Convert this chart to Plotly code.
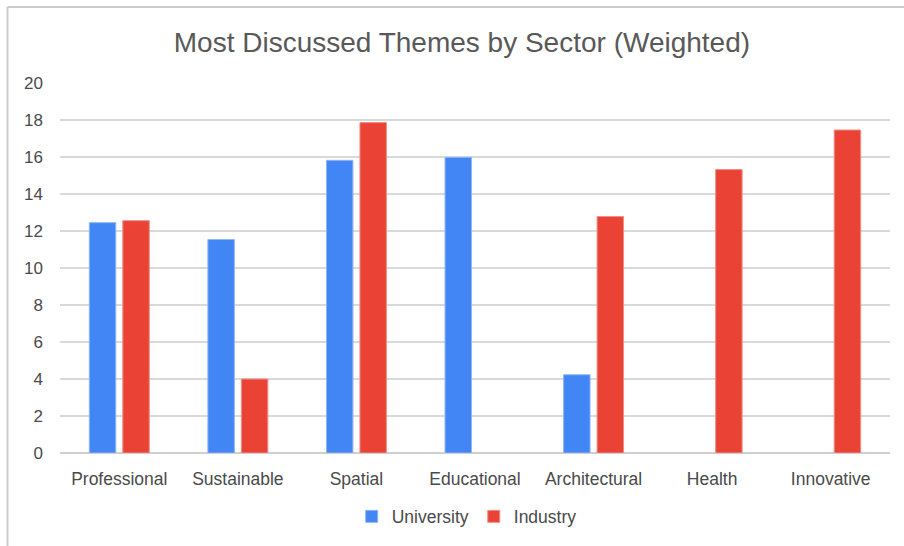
import plotly.graph_objects as go

categories = ["Professional", "Sustainable", "Spatial", "Educational", "Architectural", "Health", "Innovative"]
university = [12.45, 11.54, 15.82, 15.98, 4.23, None, None]
industry = [12.56, 4.0, 17.86, None, 12.78, 15.32, 17.46]
y_ticks = [0, 2, 4, 6, 8, 10, 12, 14, 16, 18, 20]

W, H = 904, 546
ML, MR, MT, MB = 60, 14, 83, 90

fig = go.Figure()
fig.add_trace(go.Bar(name="University", x=categories, y=university,
                     marker=dict(color="#4285F4", line=dict(color="#8fb4f7", width=1))))
fig.add_trace(go.Bar(name="Industry", x=categories, y=industry,
                     marker=dict(color="#EA4335", line=dict(color="#f08e86", width=1))))

pw = W - ML - MR
ph = H - MT - MB
def px_x(p):
    return (p - ML) / pw
def px_y(p):
    return 1 - (p - MT) / ph

fig.update_layout(
    width=W, height=H,
    margin=dict(l=ML, r=MR, t=MT, b=MB),
    paper_bgcolor="white", plot_bgcolor="white",
    barmode="group", bargap=0.435, bargroupgap=0.21,
    title=dict(text="Most Discussed Themes by Sector (Weighted)", x=0.511, xanchor="center",
               y=1 - 42 / H, yanchor="middle",
               font=dict(family="Liberation Sans, Arial", size=28, color="#595959")),
    font=dict(family="Liberation Sans, Arial", color="#444444"),
    xaxis=dict(showgrid=False, tickfont=dict(size=17.5, color="#4a4a4a"), ticklabelstandoff=13,
               showline=False),
    yaxis=dict(range=[0, 20], tickvals=y_ticks, showgrid=True, gridcolor="#d9d9d9", gridwidth=1.5,
               zeroline=True, zerolinecolor="#cfcfcf", zerolinewidth=1.5,
               tickfont=dict(size=17, color="#4a4a4a"), ticklabelstandoff=16),
    legend=dict(orientation="h", x=0.49, xanchor="center", y=px_y(520), yanchor="middle",
                font=dict(size=17.5, color="#4a4a4a"), itemwidth=30, traceorder="normal"),
    shapes=[
        dict(type="line", xref="paper", yref="paper", x0=px_x(7.5), x1=px_x(W + 5),
             y0=px_y(6.5), y1=px_y(6.5), line=dict(color="#cccccc", width=2)),
        dict(type="line", xref="paper", yref="paper", x0=px_x(7.5), x1=px_x(7.5),
             y0=px_y(6.5), y1=px_y(H + 5), line=dict(color="#cccccc", width=2)),
    ],
)

fig.write_html("out.html")
